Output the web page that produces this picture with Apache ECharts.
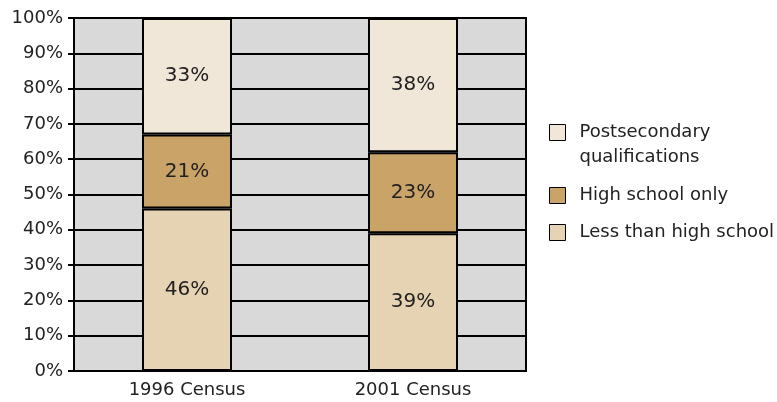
<!DOCTYPE html>
<html>
<head>
<meta charset="utf-8">
<script src="https://cdn.jsdelivr.net/npm/echarts@6/dist/echarts.min.js"></script>
<style>
  html, body { margin: 0; padding: 0; background: #fff; }
  #chart { width: 777px; height: 402px; }
</style>
</head>
<body>
<div id="chart"></div>
<script>
var categories = ['1996 Census', '2001 Census'];
var lessThanHigh = [46, 39];
var highSchoolOnly = [21, 23];
var postsecondary = [33, 38];
var yTicks = [0, 10, 20, 30, 40, 50, 60, 70, 80, 90, 100];

var font = 'DejaVu Sans, sans-serif';
var colors = {
	post: '#f1e7d9',
	high: '#c9a368',
	less: '#e6d3b3'
};

function barSeries(name, data, color) {
	return {
		name: name,
		type: 'bar',
		stack: 'total',
		barWidth: 90,
		data: data,
		itemStyle: { color: color, borderColor: '#000', borderWidth: 2 },
		label: {
			show: true,
			position: 'inside',
			formatter: '{c}%',
			color: '#222',
			fontSize: 20,
			fontFamily: font
		}
	};
}

// one legend per item so each can sit where the reference puts it
function legendItem(name, top, text) {
	return {
		data: [name],
		orient: 'vertical',
		left: 549,
		top: top,
		padding: 0,
		itemWidth: 16,
		itemHeight: 16,
		icon: 'rect',
		selectedMode: false,
		itemStyle: { borderColor: '#000', borderWidth: 1 },
		formatter: function () { return text; },
		textStyle: {
			color: '#222',
			fontSize: 18,
			fontFamily: font,
			lineHeight: 25,
			rich: {
				t: { padding: [0, 0, 0, 9], fontSize: 18, fontFamily: font, lineHeight: 25, color: '#222' }
			}
		}
	};
}

var chart = echarts.init(document.getElementById('chart'));
chart.setOption({
	animation: false,
	grid: {
		left: 74,
		right: 251,
		top: 18,
		bottom: 31,
		show: true,
		backgroundColor: '#d9d9d9',
		borderColor: '#000',
		borderWidth: 2
	},
	legend: [
		legendItem('Postsecondary', 95, '{t| }\n{t|Postsecondary}\n{t|qualifications}'),
		legendItem('High school only', 183, '{t|High school only}'),
		legendItem('Less than high school', 220, '{t|Less than high school}')
	],
	xAxis: {
		type: 'category',
		data: categories,
		axisLine: { show: true, lineStyle: { color: '#000', width: 2 } },
		axisTick: { show: false },
		axisLabel: { color: '#222', fontSize: 18, fontFamily: font, margin: 10 }
	},
	yAxis: {
		type: 'value',
		min: 0,
		max: 100,
		interval: 10,
		axisLine: { show: true, lineStyle: { color: '#000', width: 2 } },
		axisTick: { show: true, length: 6, lineStyle: { color: '#000', width: 2 } },
		axisLabel: {
			color: '#222',
			fontSize: 18,
			fontFamily: font,
			margin: 11,
			formatter: function (v) { return yTicks.indexOf(v) >= 0 ? v + '%' : ''; }
		},
		splitLine: { show: true, lineStyle: { color: '#000', width: 2 } }
	},
	series: [
		barSeries('Less than high school', lessThanHigh, colors.less),
		barSeries('High school only', highSchoolOnly, colors.high),
		barSeries('Postsecondary', postsecondary, colors.post)
	]
});
</script>
</body>
</html>
